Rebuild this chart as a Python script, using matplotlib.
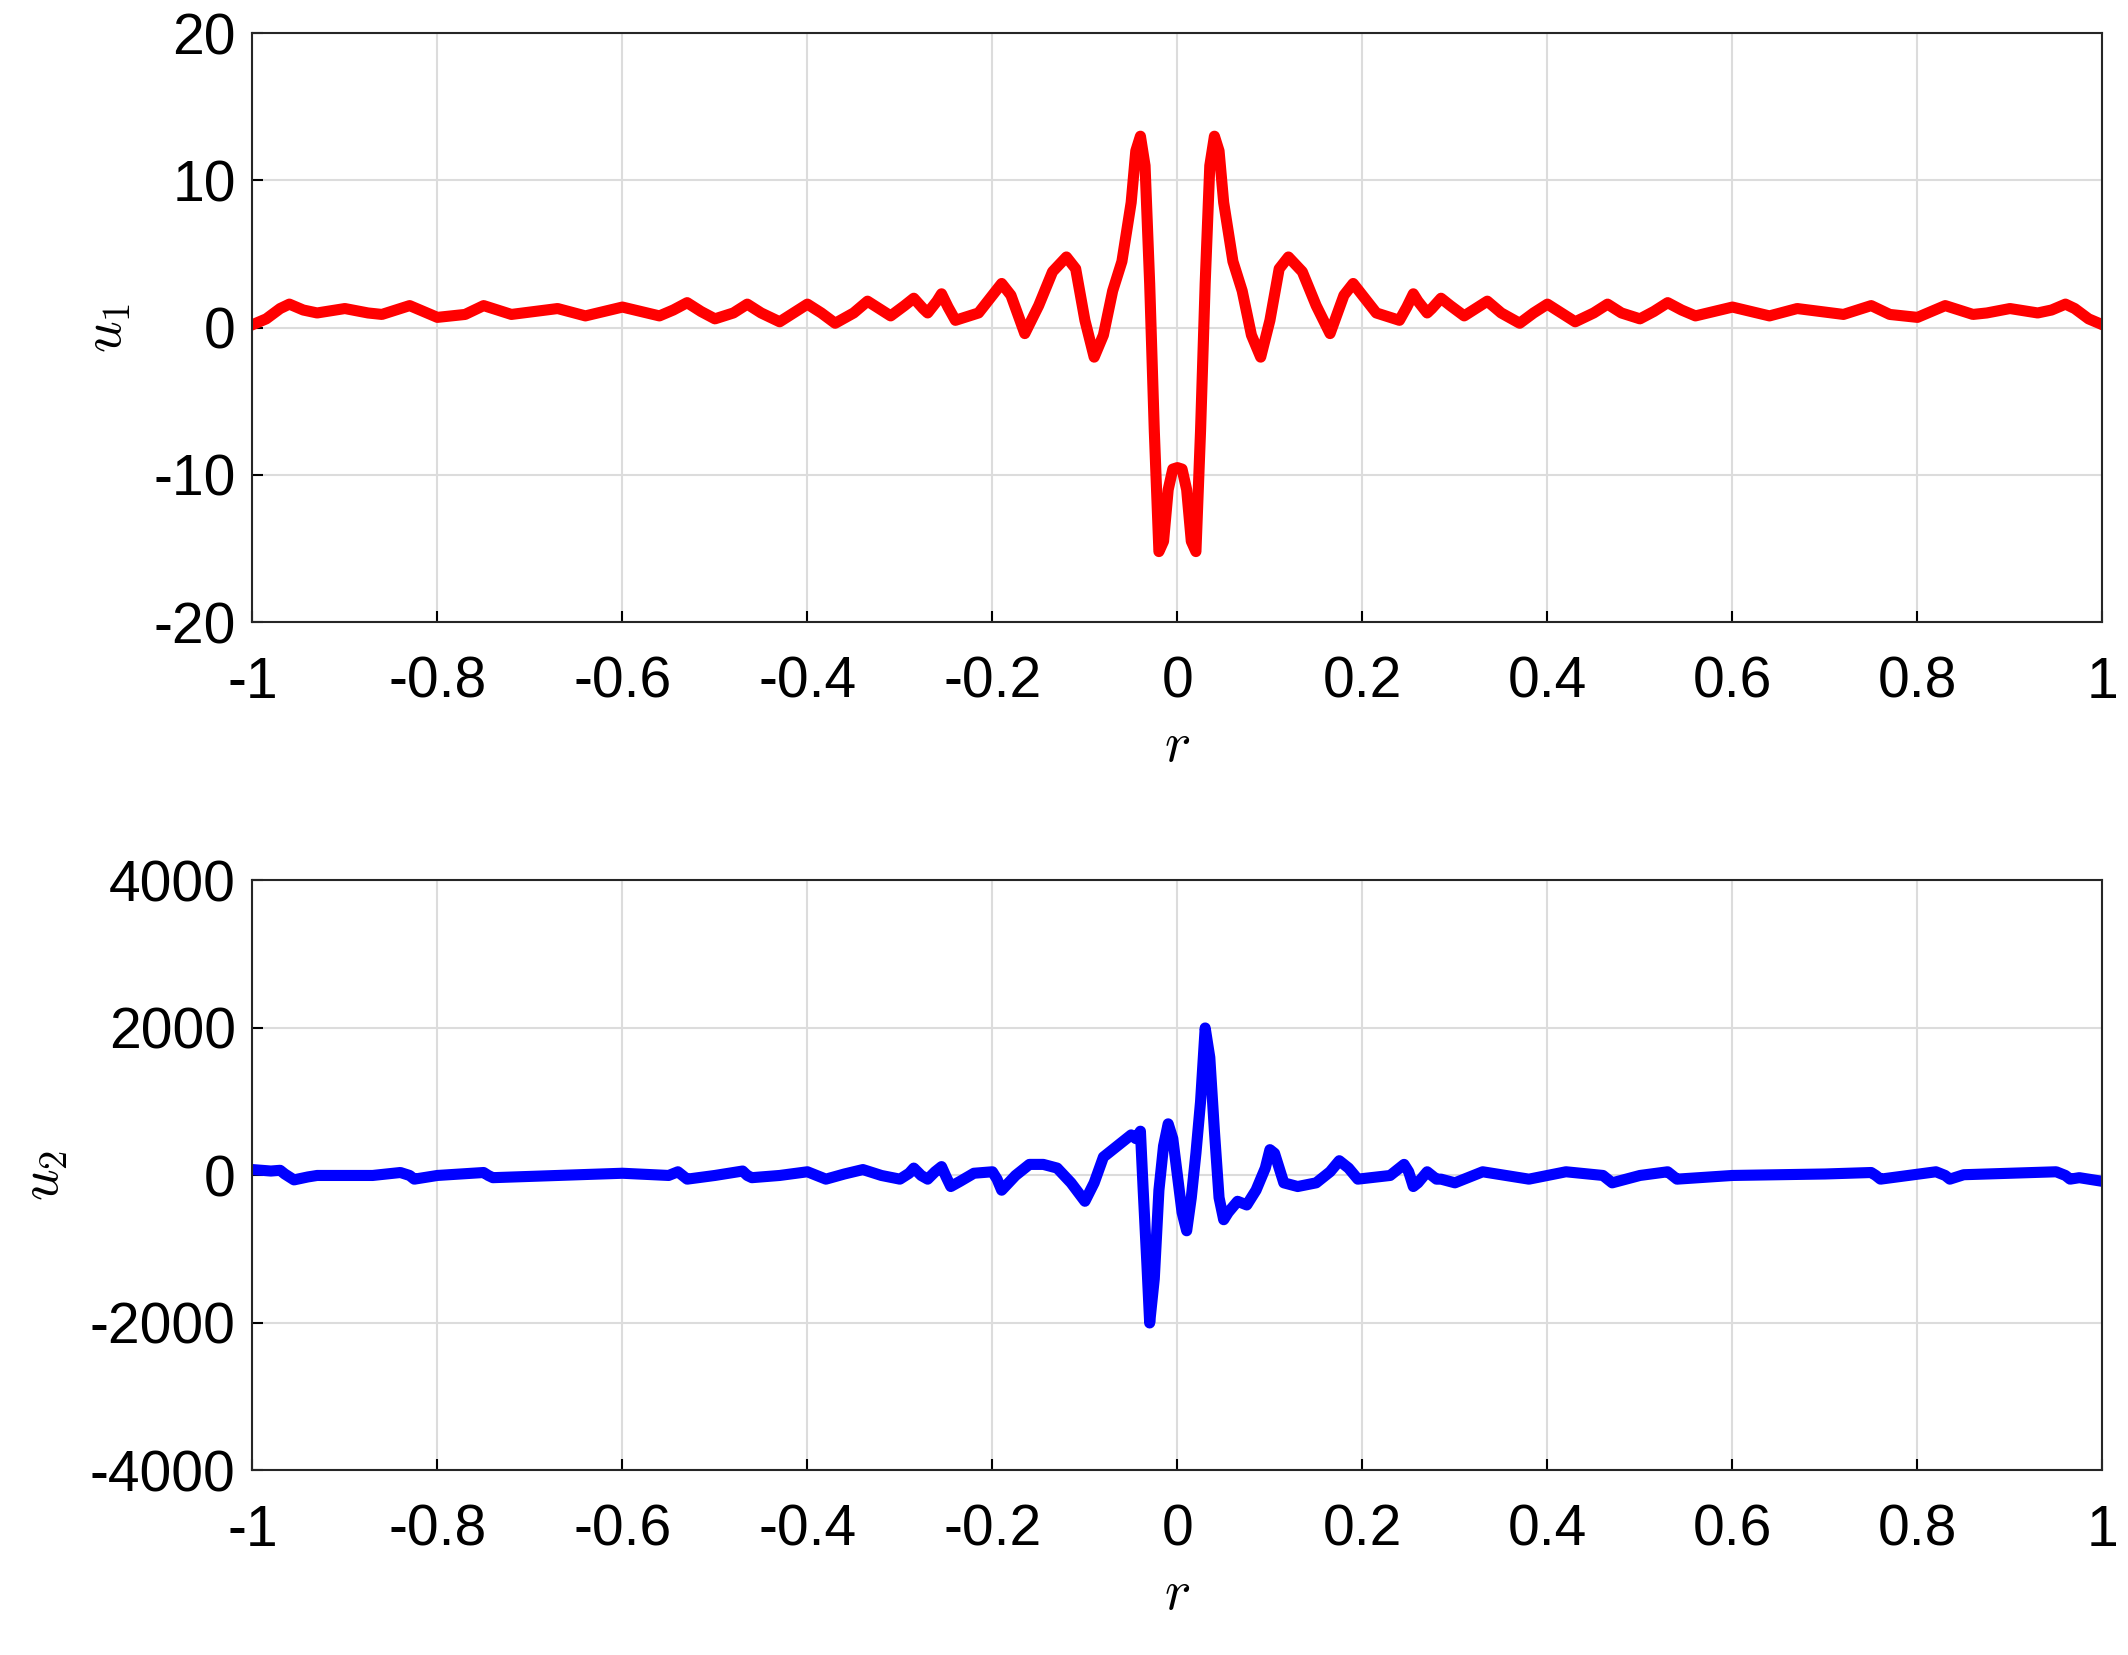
import matplotlib
matplotlib.use("Agg")
import matplotlib.pyplot as plt

r1 = [-1, -0.985, -0.97, -0.96, -0.945, -0.93, -0.9, -0.875, -0.86, -0.845, -0.83, -0.815, -0.8, -0.77, -0.76, -0.75, -0.735, -0.72, -0.67, -0.64, -0.6, -0.56,
      -0.545, -0.53, -0.515, -0.5, -0.48, -0.465, -0.45, -0.43, -0.415, -0.4, -0.385, -0.37, -0.35,
      -0.335, -0.32, -0.31, -0.295, -0.285, -0.275, -0.27, -0.26, -0.255, -0.248, -0.24, -0.215, -0.2, -0.19, -0.18, -0.165, -0.15, -0.135, -0.12, -0.11, -0.1, -0.09,
      -0.08, -0.07, -0.06, -0.05, -0.045, -0.04, -0.035, -0.03, -0.025, -0.02, -0.015, -0.01, -0.005, 0,
      0.005, 0.01, 0.015, 0.02, 0.025, 0.03, 0.035, 0.04, 0.045, 0.05, 0.06, 0.07, 0.08, 0.09, 0.1, 0.11, 0.12, 0.135, 0.15, 0.165, 0.18, 0.19, 0.2, 0.215,
      0.24, 0.248, 0.255, 0.26, 0.27, 0.275, 0.285, 0.295, 0.31, 0.32, 0.335, 0.35, 0.37, 0.385, 0.4, 0.415, 0.43, 0.45, 0.465, 0.48, 0.5, 0.515, 0.53, 0.545,
      0.56, 0.6, 0.64, 0.67, 0.72, 0.735, 0.75, 0.76, 0.77, 0.8, 0.815, 0.83, 0.845, 0.86, 0.875, 0.9, 0.93, 0.945, 0.96, 0.97, 0.985, 1]
u1 = [0.2, 0.6, 1.3, 1.6, 1.2, 1.0, 1.3, 1.0, 0.9, 1.2, 1.5, 1.1, 0.7, 0.9, 1.2, 1.5, 1.2, 0.9, 1.3, 0.8, 1.4, 0.8,
      1.2, 1.7, 1.1, 0.6, 1.0, 1.6, 1.0, 0.4, 1.0, 1.6, 1.0, 0.3, 1.0,
      1.8, 1.2, 0.8, 1.5, 2.0, 1.3, 1.0, 1.8, 2.3, 1.4, 0.5, 1.0, 2.2, 3.0, 2.2, -0.4, 1.5, 3.8, 4.8, 4.0, 0.5, -2.0,
      -0.5, 2.5, 4.5, 8.5, 12.0, 13.0, 11.0, 3.0, -7.0, -15.2, -14.5, -11.0, -9.6, -9.5,
      -9.6, -11.0, -14.5, -15.2, -7.0, 3.0, 11.0, 13.0, 12.0, 8.5, 4.5, 2.5, -0.5, -2.0, 0.5, 4.0, 4.8, 3.8, 1.5, -0.4, 2.2, 3.0, 2.2, 1.0,
      0.5, 1.4, 2.3, 1.8, 1.0, 1.3, 2.0, 1.5, 0.8, 1.2, 1.8, 1.0, 0.3, 1.0, 1.6, 1.0, 0.4, 1.0, 1.6, 1.0, 0.6, 1.1, 1.7, 1.2,
      0.8, 1.4, 0.8, 1.3, 0.9, 1.2, 1.5, 1.2, 0.9, 0.7, 1.1, 1.5, 1.2, 0.9, 1.0, 1.3, 1.0, 1.2, 1.6, 1.3, 0.6, 0.2]

r2 = [-1, -0.98, -0.97, -0.965, -0.955, -0.94, -0.93, -0.87, -0.84, -0.83, -0.825, -0.81, -0.8, -0.75, -0.745, -0.74, -0.67, -0.6, -0.55, -0.54, -0.535, -0.53, -0.5, -0.47, -0.465, -0.46, -0.43,
      -0.4, -0.39, -0.38, -0.36, -0.34, -0.32, -0.3, -0.29, -0.285, -0.277, -0.27, -0.262, -0.255, -0.25, -0.245, -0.235, -0.22, -0.2, -0.195, -0.19, -0.175, -0.16, -0.145, -0.13, -0.115, -0.1, -0.09,
      -0.08, -0.07, -0.06, -0.05, -0.045, -0.04, -0.037, -0.033, -0.03, -0.025, -0.02, -0.015, -0.01, -0.005, 0.0, 0.005, 0.01, 0.015, 0.02, 0.025, 0.03, 0.035, 0.04, 0.045,
      0.05, 0.055, 0.065, 0.075, 0.085, 0.095, 0.1, 0.105, 0.115, 0.13, 0.15, 0.165, 0.175, 0.185, 0.195, 0.23, 0.245, 0.25, 0.255, 0.26, 0.27, 0.28, 0.285, 0.3,
      0.33, 0.38, 0.42, 0.46, 0.47, 0.5, 0.53, 0.535, 0.54, 0.6, 0.7, 0.75, 0.755, 0.76, 0.82, 0.83, 0.835, 0.85, 0.9, 0.95, 0.96, 0.965, 0.975, 1]
u2 = [80, 60, 70, 20, -60, -20, 0, 0, 40, 0, -50, -20, 0, 40, 0, -30, 0, 30, 0, 50, 0, -50, 0, 60, 0, -30, 0,
      50, 0, -50, 20, 80, 0, -50, 30, 100, 0, -50, 50, 120, -20, -150, -80, 30, 50, -50, -200, 0, 150, 150, 100, -100, -350, -100,
      250, 350, 450, 550, 500, 600, -200, -1200, -2000, -1400, -200, 400, 700, 500, 0, -500, -750, -300, 300, 1000, 2000, 1600, 600, -300,
      -600, -500, -350, -400, -200, 100, 350, 300, -100, -150, -100, 50, 200, 100, -50, 0, 150, 50, -150, -100, 50, -50, -50, -100,
      50, -50, 50, 0, -100, 0, 50, 0, -50, 0, 20, 40, 0, -50, 50, 0, -50, 10, 30, 50, 0, -50, -30, -80]

plt.rcParams['font.family'] = ['Liberation Sans', 'DejaVu Sans']
plt.rcParams['mathtext.fontset'] = 'cm'
fig = plt.figure(figsize=(21.28, 16.55), dpi=100)
ax1 = fig.add_axes([0.1186, 0.624, 0.8694, 0.356])
ax2 = fig.add_axes([0.1186, 0.1115, 0.8694, 0.3565])

def style(ax, yt, ylim, ylabel):
    ax.set_xlim(-1, 1)
    ax.set_ylim(*ylim)
    ax.set_xticks([-1, -0.8, -0.6, -0.4, -0.2, 0, 0.2, 0.4, 0.6, 0.8, 1])
    ax.set_xticklabels(['-1', '-0.8', '-0.6', '-0.4', '-0.2', '0', '0.2', '0.4', '0.6', '0.8', '1'])
    ax.set_yticks(yt)
    ax.set_yticklabels([str(v) for v in yt])
    ax.grid(True, color='#dcdcdc', linewidth=1.5)
    ax.set_axisbelow(True)
    ax.tick_params(labelsize=41, direction='in', length=8, width=1.5, pad=12)
    ax.tick_params(axis='x', pad=24)
    for s in ax.spines.values():
        s.set_linewidth(1.5)
        s.set_color('#262626')
    ax.set_xlabel('$r$', fontsize=40, labelpad=8)
    ax.set_ylabel(ylabel, fontsize=40, labelpad=14)

ax1.plot(r1, u1, color='#ff0000', linewidth=8, solid_joinstyle='round')
style(ax1, [-20, -10, 0, 10, 20], (-20, 20), '$u_1$')
ax2.plot(r2, u2, color='#0000ff', linewidth=8, solid_joinstyle='round')
style(ax2, [-4000, -2000, 0, 2000, 4000], (-4000, 4000), '$u_2$')
fig.savefig('out.png', dpi=100)
